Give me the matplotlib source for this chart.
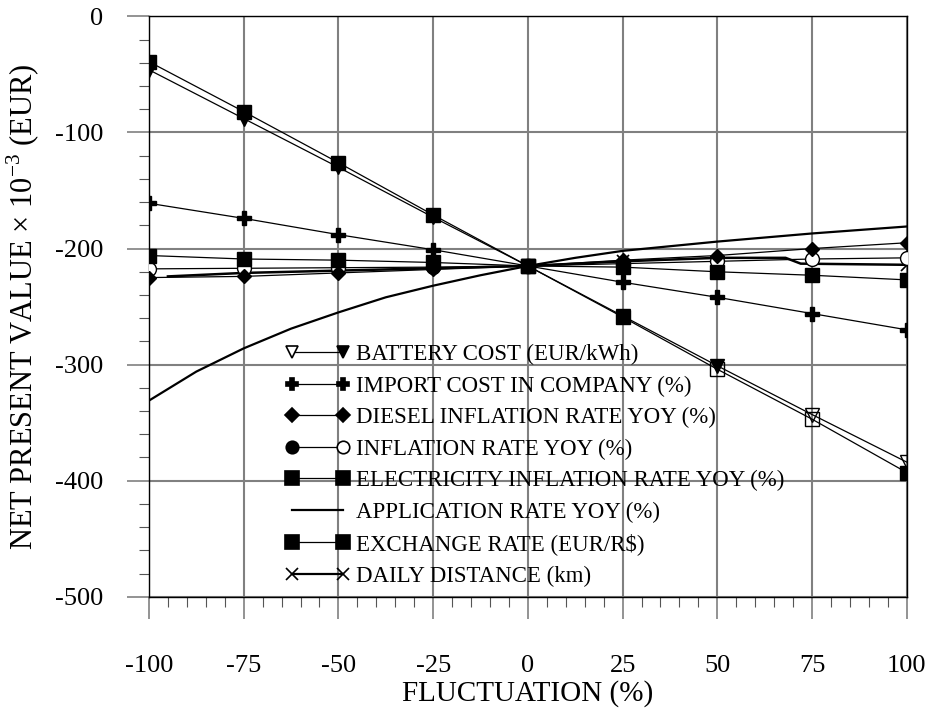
import numpy as np
import matplotlib
matplotlib.use("Agg")
import matplotlib.pyplot as plt
from matplotlib.lines import Line2D
from matplotlib.legend_handler import HandlerBase
from matplotlib.ticker import MultipleLocator

plt.rcParams["font.family"] = ["Liberation Serif", "DejaVu Serif"]
plt.rcParams["mathtext.fontset"] = "custom"
plt.rcParams["mathtext.rm"] = "Liberation Serif"
plt.rcParams["axes.unicode_minus"] = False

# fluctuation (%)
fluct = [-100, -75, -50, -25, 0, 25, 50, 75, 100]

battery_cost = [-46, -88, -130, -173, -215, -258, -301, -343, -384]
import_cost = [-161, -174, -188, -201, -215, -229, -242, -256, -270]
diesel_infl = [-225, -224, -221, -218, -215, -210, -206, -200, -195]
inflation = [-217.5, -217, -216.5, -216, -215, -213, -211, -209, -208]
electricity_infl = [-206, -209, -210, -212, -215, -216, -220, -223, -227]
exchange_rate = [-39, -82, -126, -171, -215, -259, -304, -347, -393]

# application rate is a curve, read at a finer step
app_x = [-100, -87.5, -75, -62.5, -50, -37.5, -25, -12.5, 0,
         12.5, 25, 37.5, 50, 62.5, 75, 87.5, 100]
application = [-331, -306, -286, -269, -255, -242, -232, -223, -215,
               -208, -202, -198, -194, -190.5, -187, -184, -181]

# daily distance was evaluated on its own grid
dist_x = [-95, -75, -50, -25, 0, 25, 50, 68, 72, 100]
dist_y = [-224, -221, -219, -217, -215, -211, -208, -208, -213, -214]
dist_marked = [25, 75, 100]

labels = [
    "BATTERY COST (EUR/kWh)",
    "IMPORT COST IN COMPANY (%)",
    "DIESEL INFLATION RATE YOY (%)",
    "INFLATION RATE YOY (%)",
    "ELECTRICITY INFLATION RATE YOY (%)",
    "APPLICATION RATE YOY (%)",
    "EXCHANGE RATE (EUR/R$)",
    "DAILY DISTANCE (km)",
]

# legend sample: (marker, left filled, right filled, marker size)
legend_marks = [
    ("v", False, True, 9),
    ("P", True, True, 9),
    ("D", True, True, 7),
    ("o", True, False, 9),
    ("s", True, True, 10),
    (None, True, True, 0),
    ("s", True, True, 10),
    ("x", True, True, 9),
]


class PairHandler(HandlerBase):
    def __init__(self, marker, left_fill, right_fill, size, lw):
        super().__init__()
        self.marker = marker
        self.left_fill = left_fill
        self.right_fill = right_fill
        self.size = size
        self.lw = lw

    def create_artists(self, legend, orig_handle, xdescent, ydescent,
                       width, height, fontsize, trans):
        y = height / 2 - ydescent
        x0, x1 = -xdescent, width - xdescent
        arts = [Line2D([x0, x1], [y, y], color="black", lw=self.lw,
                       transform=trans)]
        if self.marker is not None:
            for xx, filled in ((x0, self.left_fill), (x1, self.right_fill)):
                arts.append(Line2D([xx], [y], marker=self.marker, ls="none",
                                   ms=self.size, mec="black", mew=1.2,
                                   mfc="black" if filled else "white",
                                   transform=trans))
        return arts


fig = plt.figure(figsize=(9.31, 7.13), dpi=100)
ax = fig.add_axes([0.160, 0.163, 0.814, 0.814])

x = np.array(fluct)
lw = 0.9
ms_sq = 10

ax.plot(app_x, application, color="black", lw=1.6, zorder=3)

ax.plot(dist_x, dist_y, color="black", lw=1.8, zorder=3)
dx = np.array(dist_x)
dy = np.array(dist_y)
keep = np.isin(dx, dist_marked)
ax.plot(dx[keep], dy[keep], ls="none", marker="x", ms=9, mew=1.2,
        color="black", zorder=4)

ax.plot(fluct, inflation, color="black", lw=lw, marker="o", ms=10,
        mfc="white", mec="black", mew=1.0, zorder=4)
ax.plot(fluct, diesel_infl, color="black", lw=lw, marker="D", ms=7, zorder=4)
ax.plot(fluct, import_cost, color="black", lw=lw, marker="P", ms=10, zorder=4)
ax.plot(fluct, electricity_infl, color="black", lw=lw, marker="s", ms=ms_sq,
        zorder=5)

# steep pair: battery cost (triangles) and exchange rate (squares)
ax.plot(fluct, battery_cost, color="black", lw=lw, zorder=5)
ax.plot(fluct, exchange_rate, color="black", lw=lw, zorder=5)
bc = np.array(battery_cost)
er = np.array(exchange_rate)
open_bc = x >= 75
open_er = (x == 50) | (x == 75)
ax.plot(x[~open_bc], bc[~open_bc], ls="none", marker="v", ms=10,
        color="black", zorder=6)
ax.plot(x[~open_er], er[~open_er], ls="none", marker="s", ms=ms_sq,
        color="black", zorder=6)
ax.plot(x[open_er], er[open_er], ls="none", marker="s", ms=ms_sq,
        mfc="none", mec="black", mew=1.0, zorder=6)
ax.plot(x[open_bc], bc[open_bc], ls="none", marker="v", ms=10,
        mfc="none", mec="black", mew=1.0, zorder=7)

ax.set_xlim(-100, 100)
ax.set_ylim(-500, 0)
ax.xaxis.set_major_locator(MultipleLocator(25))
ax.xaxis.set_minor_locator(MultipleLocator(5))
ax.yaxis.set_major_locator(MultipleLocator(100))
ax.yaxis.set_minor_locator(MultipleLocator(20))
ax.grid(True, which="major", color="#808080", lw=1.5, zorder=0)
ax.set_axisbelow(True)
for sp in ax.spines.values():
    sp.set_linewidth(1.0)
    sp.set_color("black")

ax.tick_params(which="major", direction="out", length=16, width=1.2,
               color="#808080", labelsize=19)
ax.tick_params(which="minor", direction="out", length=7, width=0.8,
               color="#555555")
ax.tick_params(axis="x", which="major", pad=26)
ax.tick_params(axis="y", which="major", pad=17)
ax.set_xticks(fluct)
ax.set_xticklabels([str(v) for v in fluct])

ax.set_xlabel("FLUCTUATION (%)", fontsize=21, labelpad=2)
ax.set_ylabel("NET PRESENT VALUE × 10$^{-3}$ (EUR)", fontsize=22,
              labelpad=9)

handles = []
hmap = {}
for lab, (mk, lf, rf, sz) in zip(labels, legend_marks):
    h = Line2D([], [], color="black")
    handles.append(h)
    hmap[h] = PairHandler(mk, lf, rf, sz, 1.6 if mk in (None, "x") else 0.9)

ax.legend(handles, labels, handler_map=hmap, loc="lower left",
          bbox_to_anchor=(0.168, -0.01), frameon=False, fontsize=16.5,
          handlelength=2.2, handletextpad=0.6, labelspacing=0.45,
          borderaxespad=0.3)

fig.savefig("out.png", dpi=100)
